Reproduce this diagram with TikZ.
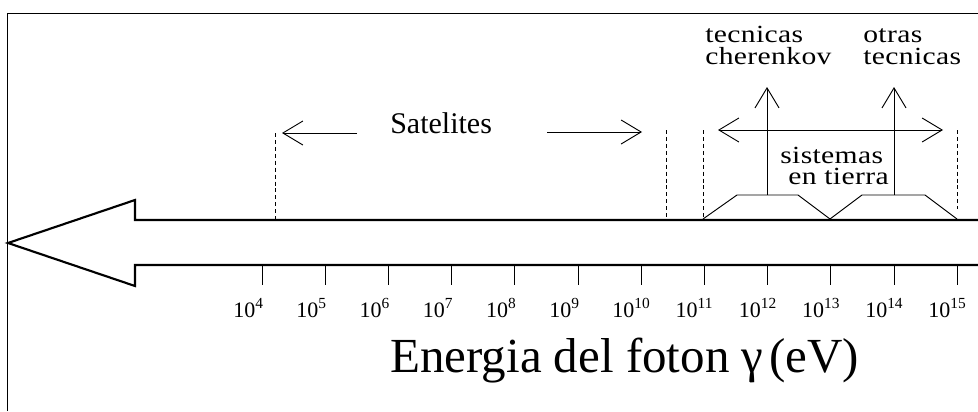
\documentclass[tikz,border=0pt]{standalone}
\usepackage{fontspec}
\setmainfont{Liberation Serif}
\newfontfamily\widefont[FakeStretch=1.2,LetterSpace=1.5]{Liberation Serif}
\usetikzlibrary{arrows.meta}
\begin{document}
\begin{tikzpicture}[x=0.75pt,y=-0.75pt,
  thinline/.style={line width=0.7pt},
  thickline/.style={line width=1.6pt,line join=miter},
  dashline/.style={line width=0.7pt,dash pattern=on 3pt off 2.2pt},
  txt/.style={inner sep=0pt,anchor=base west},
  ticklab/.style={txt,font=\fontsize{16.5}{18}\selectfont},
  techlab/.style={txt,align=left,font=\widefont\fontsize{18.5}{16.2}\selectfont},
  >={Straight Barb[length=15pt,width=18pt]}]
\useasboundingbox (0,0) rectangle (978,411);
% frame (top and left)
\coordinate (fL) at (7,411);
\coordinate (fTL) at (7,13);
\coordinate (fTR) at (978,13);
\draw[thinline] (fL) -- (fTL) -- (fTR);
% big arrow
\coordinate (sTr) at (978,220);
\coordinate (sT) at (135,220);
\coordinate (hT) at (135,200);
\coordinate (tip) at (8,243);
\coordinate (hB) at (135,286);
\coordinate (sB) at (135,265);
\coordinate (sBr) at (978,265);
\draw[thickline] (sTr) -- (sT) -- (hT) -- (tip) -- (hB) -- (sB) -- (sBr);
% ticks and labels
\foreach \e [count=\i from 0] in {4,...,15} {
  \pgfmathsetmacro\tx{262+63.2*\i}
  \coordinate (t\e) at (\tx,265);
  \coordinate (tb\e) at (\tx,285);
  \draw[thinline] (t\e) -- (tb\e);
  \node[ticklab] (lab\e) at (\tx-29,317) {10\textsuperscript{\e}};
}
% satellites
\node[txt,font=\fontsize{22.5}{24}\selectfont] (sat) at (390,133) {Satelites};
\coordinate (satLs) at (357,133);
\coordinate (satLe) at (282,133);
\coordinate (satRs) at (547,132);
\coordinate (satRe) at (642,132);
\draw[thinline,->] (satLs) -- (satLe);
\draw[thinline,->] (satRs) -- (satRe);
\coordinate (d1a) at (275,133); \coordinate (d1b) at (275,220);
\coordinate (d2a) at (666,130); \coordinate (d2b) at (666,219);
\coordinate (d3a) at (703,130); \coordinate (d3b) at (703,219);
\coordinate (d4a) at (957,130); \coordinate (d4b) at (957,209);
\draw[dashline] (d1a) -- (d1b);
\draw[dashline] (d2a) -- (d2b);
\draw[dashline] (d3a) -- (d3b);
\draw[dashline] (d4a) -- (d4b);
% ground systems
\coordinate (gL) at (718,130);
\coordinate (gR) at (943,130);
\draw[thinline,<->] (gL) -- (gR);
\node[techlab,font=\widefont\fontsize{18.5}{15.8}\selectfont] (sis) at (780,184.5) {sistemas\\\hspace*{6pt}en tierra};
% trapezoids
\coordinate (p1) at (703,219);
\coordinate (p2) at (737,195);
\coordinate (p3) at (798,195);
\coordinate (p4) at (830,219);
\coordinate (p5) at (862,195);
\coordinate (p6) at (925,195);
\coordinate (p7) at (957,219);
\draw[thinline] (p1) -- (p2) -- (p3) -- (p4) -- (p5) -- (p6) -- (p7);
% vertical arrows
\coordinate (v1a) at (767,195); \coordinate (v1b) at (767,87);
\coordinate (v2a) at (894,195); \coordinate (v2b) at (894,87);
\draw[thinline,->] (v1a) -- (v1b);
\draw[thinline,->] (v2a) -- (v2b);
\node[techlab] (tc) at (705,64.5) {tecnicas\\cherenkov};
\node[techlab] (ot) at (863,64.5) {otras\\tecnicas};
% axis title
\node[txt,font=\fontsize{36.75}{40}\selectfont] (title) at (390,372) {Energia del foton γ\hspace{0.12em}(eV)};
\end{tikzpicture}
\end{document}
